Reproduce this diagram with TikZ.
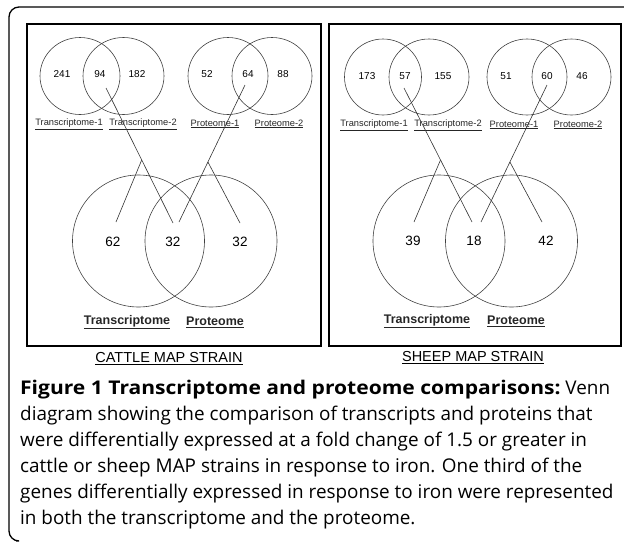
\documentclass[tikz,border=0pt]{standalone}
\usepackage{fontspec}
\setmainfont{Liberation Sans}
\newfontfamily\capfont{Open Sans}
\usetikzlibrary{calc}
\tikzset{
  venn/.style={draw=black!75, line width=0.6pt},
  bigvenn/.style={draw=black!75, line width=0.6pt},
  frame/.style={draw=black, line width=1.4pt},
  conn/.style={draw=black!80, line width=0.6pt},
  smallnum/.style={font=\fontsize{10}{12}\selectfont, inner sep=0pt},
  smalllab/.style={font=\fontsize{9.3}{11}\selectfont, inner sep=0pt, text=black!85},
  bignum/.style={font=\fontsize{13.5}{16}\selectfont, inner sep=0pt},
  biglab/.style={font=\bfseries\fontsize{12.5}{15}\selectfont, inner sep=0pt, text=black!85},
  strain/.style={font=\fontsize{14.5}{17}\selectfont, inner sep=0pt},
  capline/.style={font=\capfont\fontsize{18.9}{22}\selectfont, inner sep=0pt, anchor=base west}
}
\begin{document}
\begin{tikzpicture}[x=1pt,y=-1pt]
\useasboundingbox (0,0) rectangle (624,544);
% outer frame
\draw[line width=1.3pt, rounded corners=10pt] (626,7) -- (9,7) -- (9,541) -- (16,541);
% inner boxes
\draw[frame] (27,24) rectangle (321,346);
\draw[frame] (329,24) rectangle (621,346);

% ---------- CATTLE ----------
\draw[venn] (80,76) ellipse (40 and 38.5);
\draw[venn] (123.5,76) ellipse (40.5 and 38.5);
\draw[venn] (228,76) ellipse (40 and 38.5);
\draw[venn] (272,76) ellipse (40 and 38.5);
\node[smallnum] (c241) at (62,74) {241};
\node[smallnum] (c94) at (100,74) {94};
\node[smallnum] (c182) at (137,74) {182};
\node[smallnum] (c52) at (207,74) {52};
\node[smallnum] (c64) at (248,74) {64};
\node[smallnum] (c88) at (283,74) {88};
\node[smalllab] (ct1) at (69,124) {\underline{Transcriptome-1}};
\node[smalllab] (ct2) at (143,124) {\underline{Transcriptome-2}};
\node[smalllab] (cp1) at (215,124) {\underline{Proteome-1}};
\node[smalllab] (cp2) at (279,124) {\underline{Proteome-2}};

\draw[bigvenn] (138.5,241) circle (66);
\draw[bigvenn] (211,241) circle (66);
\node[bignum] (c62) at (113,242) {62};
\node[bignum] (c32a) at (173,242) {32};
\node[bignum] (c32b) at (240,242) {32};
\node[biglab] (ctr) at (127,322) {\underline{Transcriptome}};
\node[biglab] (cpr) at (215,322) {\underline{Proteome}};
\node[strain] (cattle) at (169,359) {\underline{CATTLE MAP STRAIN}};

\coordinate (cs1) at (106,88);
\coordinate (ce1) at (173,223);
\coordinate (cs2) at (245,85);
\coordinate (ce2) at (179,222);
\coordinate (cl) at (116,222);
\coordinate (cr) at (240,223);
\coordinate (ca1) at ($(cs1)!0.533!(ce1)$);
\coordinate (ca2) at ($(cs2)!0.562!(ce2)$);
\draw[conn] (cs1) -- (ce1);
\draw[conn] (cs2) -- (ce2);
\draw[conn] (ca1) -- (cl);
\draw[conn] (ca2) -- (cr);

% ---------- SHEEP ----------
\draw[venn] (383,77) ellipse (38.5 and 38);
\draw[venn] (429,77) ellipse (40 and 38);
\draw[venn] (527,77) ellipse (40 and 38);
\draw[venn] (571.5,77) ellipse (39.5 and 38);
\node[smallnum] (s173) at (367,76) {173};
\node[smallnum] (s57) at (405,76) {57};
\node[smallnum] (s155) at (443,76) {155};
\node[smallnum] (s51) at (506,76) {51};
\node[smallnum] (s60) at (547,76) {60};
\node[smallnum] (s46) at (582,76) {46};
\node[smalllab] (st1) at (374,125) {\underline{Transcriptome-1}};
\node[smalllab] (st2) at (448,125) {\underline{Transcriptome-2}};
\node[smalllab] (sp1) at (514,125) {\underline{Proteome-1}};
\node[smalllab] (sp2) at (578,125) {\underline{Proteome-2}};

\draw[bigvenn] (439,241) circle (66);
\draw[bigvenn] (511.5,241) circle (66);
\node[bignum] (s39) at (413,241) {39};
\node[bignum] (s18) at (474,241) {18};
\node[bignum] (s42) at (546,241) {42};
\node[biglab] (str) at (427,321) {\underline{Transcriptome}};
\node[biglab] (spr) at (516,321) {\underline{Proteome}};
\node[strain] (sheep) at (473,358) {\underline{SHEEP MAP STRAIN}};

\coordinate (ss1) at (404,88);
\coordinate (se1) at (472,222);
\coordinate (ss2) at (547,85);
\coordinate (se2) at (481,222);
\coordinate (sl) at (414,222);
\coordinate (sr) at (542,222);
\coordinate (sa1) at ($(ss1)!0.537!(se1)$);
\coordinate (sa2) at ($(ss2)!0.562!(se2)$);
\draw[conn] (ss1) -- (se1);
\draw[conn] (ss2) -- (se2);
\draw[conn] (sa1) -- (sl);
\draw[conn] (sa2) -- (sr);

% ---------- CAPTION ----------
\node[capline] (l1) at (20,394) {\scalebox{1.113}[1]{\textbf{Figure 1 Transcriptome and proteome comparisons:}} Venn};
\node[capline] (l2) at (20,420) {diagram showing the comparison of transcripts and proteins that};
\node[capline] (l3) at (20,446) {were differentially expressed at a fold change of 1.5 or greater in};
\node[capline] (l4) at (20,472) {cattle or sheep MAP strains in response to iron. One third of the};
\node[capline] (l5) at (20,498) {genes differentially expressed in response to iron were represented};
\node[capline] (l6) at (20,524) {in both the transcriptome and the proteome.};
\end{tikzpicture}
\end{document}
